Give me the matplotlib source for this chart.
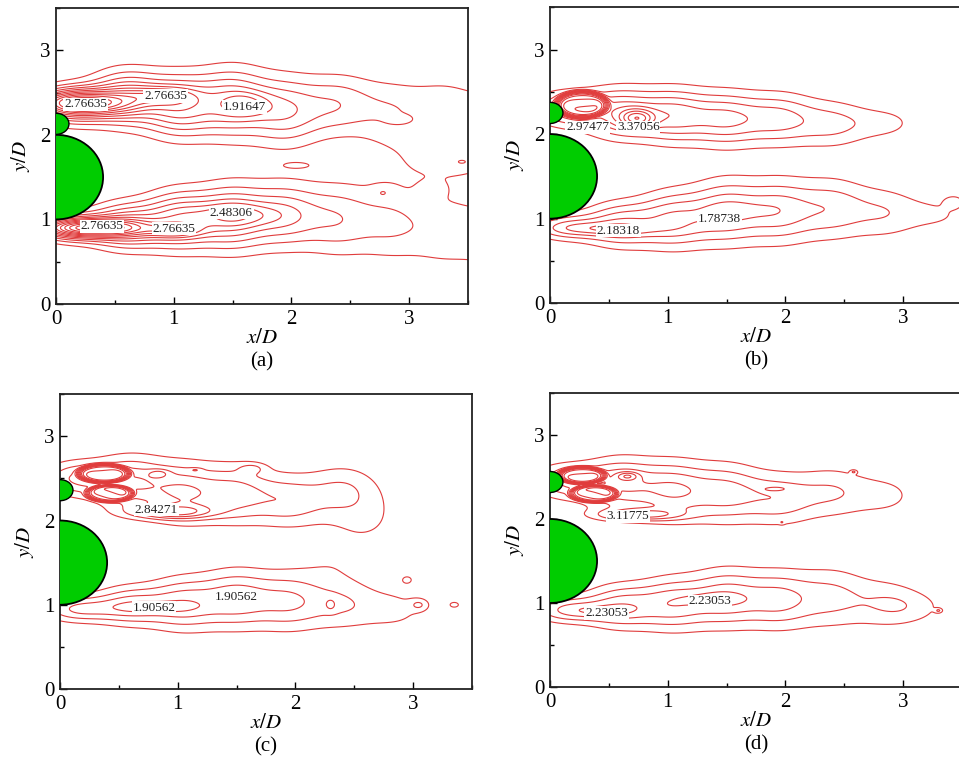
import numpy as np
import matplotlib
matplotlib.use("Agg")
from matplotlib import pyplot as plt
from matplotlib.patches import Ellipse
from matplotlib.ticker import MultipleLocator

# contour level steps
a_step = 0.28329
b_step = 0.39579
c_step = 0.31236
d_step = 0.29574
a_base = 0.78331
b_base = 0.60000
c_base = 0.96854
d_base = 1.34331

# x stations of the blobs that follow each shear layer
chain_x = [0.15, 0.60, 1.05, 1.50, 1.95, 2.40, 2.85, 3.30, 3.75]

# blobs of each field: centre x, centre y, width x, width y,
# peak (in contour steps), shape power
a_bx = chain_x + chain_x + [0.22, 0.90, 1.62, 0.30, 1.00, 1.55,
                            3.35, 2.05, 2.78, 3.20, 2.92, 3.45]
a_by = [2.35, 2.44, 2.34, 2.38, 2.28, 2.36, 2.26, 2.32, 2.20,
        0.90, 0.92, 0.99, 1.02, 1.05, 1.00, 0.96, 0.86, 0.80,
        2.38, 2.46, 2.36, 0.90, 0.87, 1.05,
        1.70, 1.64, 1.33, 1.35, 2.18, 1.68]
a_sx = [0.30] * 18 + [0.40, 0.25, 0.20, 0.40, 0.22, 0.35,
                      0.55, 0.15, 0.10, 0.12, 0.10, 0.07]
a_sy = [0.22, 0.30, 0.34, 0.38, 0.38, 0.34, 0.38, 0.38, 0.38,
        0.16, 0.25, 0.32, 0.36, 0.36, 0.40, 0.42, 0.42, 0.42,
        0.14, 0.10, 0.14, 0.10, 0.08, 0.13,
        0.30, 0.045, 0.08, 0.10, 0.05, 0.04]
a_amp = [4.2, 5.1, 5.1, 4.4, 3.6, 2.5, 1.7, 1.35, 1.35,
         4.2, 5.1, 5.1, 4.7, 3.5, 2.5, 1.9, 1.5, 1.5,
         8.0, 2.8, 2.1, 8.0, 2.8, 2.0,
         1.2, 0.9, 0.8, 0.8, 0.8, 0.8]
a_pw = [1] * 30

b_bx = chain_x[:7] + chain_x[:8] + [0.27, 0.74, 0.50, 1.60, 3.43]
b_by = [2.30, 2.25, 2.22, 2.18, 2.18, 2.12, 2.13,
        0.90, 0.93, 0.99, 1.08, 1.09, 1.12, 1.07, 1.05,
        2.35, 2.18, 0.88, 1.10, 1.20]
b_sx = [0.30] * 15 + [0.22, 0.14, 0.40, 0.32, 0.08]
b_sy = [0.20, 0.28, 0.30, 0.30, 0.29, 0.27, 0.20,
        0.15, 0.25, 0.32, 0.36, 0.36, 0.35, 0.30, 0.20,
        0.16, 0.11, 0.07, 0.10, 0.07]
b_amp = [3.4, 4.1, 4.1, 3.7, 3.05, 2.1, 1.2,
         3.0, 3.6, 3.6, 3.6, 3.2, 2.4, 1.7, 1.0,
         9.0, 4.5, 1.6, 0.6, 1.4]
b_pw = [1] * 15 + [4, 1, 1, 1, 1]

c_bx = chain_x[:6] + chain_x[:7] + [0.37, 0.42, 0.84, 1.15, 1.63, 0.95, 0.80, 1.50,
                                     2.60, 2.30, 2.30, 3.05, 3.35, 2.95]
c_by = [2.50, 2.45, 2.33, 2.32, 2.23, 2.36,
        0.95, 0.99, 1.01, 1.07, 1.04, 1.01, 0.94,
        2.56, 2.32, 2.56, 2.60, 2.62, 2.10, 0.97, 1.10,
        2.00, 1.50, 1.00, 1.00, 1.00, 1.30]
c_sx = [0.30] * 13 + [0.22, 0.20, 0.09, 0.05, 0.11, 0.35, 0.30, 0.12,
                      0.35, 0.30, 0.05, 0.08, 0.05, 0.08]
c_sy = [0.20, 0.30, 0.33, 0.33, 0.30, 0.30,
        0.15, 0.22, 0.30, 0.33, 0.33, 0.30, 0.25,
        0.11, 0.10, 0.05, 0.02, 0.06, 0.08, 0.06, 0.04,
        0.40, 0.25, 0.08, 0.07, 0.04, 0.08]
c_amp = [3.0, 3.6, 3.6, 3.05, 2.45, 1.8,
         3.0, 3.3, 3.3, 3.3, 2.8, 1.8, 1.2,
         9.0, 8.0, 1.5, 1.0, 1.3, 3.5, 1.2, 0.8,
         1.0, 0.6, 1.0, 1.5, 1.5, 1.0]
c_pw = [1] * 13 + [4, 4] + [1] * 12

d_bx = chain_x[:7] + chain_x[:7] + [3.10] + [
    0.27, 0.37, 0.66, 0.75, 0.45, 1.40, 1.92, 2.58, 1.97, 3.30]
d_by = [2.45, 2.41, 2.34, 2.31, 2.24, 2.32, 2.28,
        0.92, 0.96, 0.99, 1.06, 1.04, 1.07, 1.00, 0.95,
        2.52, 2.30, 2.51, 2.05, 0.90, 1.05,
        2.36, 2.56, 1.96, 0.91]
d_sx = [0.30] * 15 + [0.20, 0.20, 0.09, 0.35, 0.25, 0.25,
                      0.08, 0.025, 0.02, 0.03]
d_sy = [0.20, 0.30, 0.33, 0.33, 0.30, 0.30, 0.25,
        0.15, 0.25, 0.30, 0.33, 0.33, 0.35, 0.30, 0.20,
        0.10, 0.10, 0.05, 0.07, 0.07, 0.08,
        0.02, 0.02, 0.02, 0.025]
d_amp = [3.0, 3.6, 3.6, 3.05, 2.45, 1.8, 1.2,
         3.0, 3.3, 3.3, 3.3, 3.0, 2.0, 1.5, 1.0,
         9.0, 8.0, 2.5, 3.5, 1.0, 1.0,
         1.0, 1.5, 1.0, 1.5]
d_pw = [1] * 15 + [4, 4] + [1] * 8

# labels on the contours
a_lab = ["2.76635", "2.76635", "1.91647", "2.76635", "2.76635", "2.48306"]
a_lx = [0.25, 0.93, 1.60, 0.39, 1.00, 1.49]
a_ly = [2.36, 2.46, 2.33, 0.92, 0.89, 1.08]
b_lab = ["2.97477", "3.37056", "2.18318", "1.78738"]
b_lx = [0.32, 0.75, 0.58, 1.44]
b_ly = [2.08, 2.08, 0.86, 1.00]
c_lab = ["2.84271", "1.90562", "1.90562"]
c_lx = [0.82, 0.80, 1.50]
c_ly = [2.13, 0.96, 1.09]
d_lab = ["3.11775", "2.23053", "2.23053"]
d_lx = [0.66, 0.48, 1.36]
d_ly = [2.03, 0.88, 1.02]

# small cylinder centre y for each case
small_cy = [2.13, 2.25, 2.36, 2.44]
captions = ["(a)", "(b)", "(c)", "(d)"]

plt.rcParams["font.family"] = ["Liberation Serif", "DejaVu Serif"]
plt.rcParams["mathtext.fontset"] = "stix"

xg = np.linspace(0, 3.5, 500)
yg = np.linspace(0, 3.5, 500)
X, Y = np.meshgrid(xg, yg)


def make_field(bx, by, sx, sy, amp, pw, base, step):
    F = np.zeros_like(X)
    for i in range(len(bx)):
        r2 = ((X - bx[i]) / sx[i]) ** 2 + ((Y - by[i]) / sy[i]) ** 2
        F += amp[i] * np.exp(-r2 ** pw[i])
    # F = 1 is the lowest drawn level
    return base + step * (F - 1)


panels = [
    (a_bx, a_by, a_sx, a_sy, a_amp, a_pw, a_base, a_step, a_lab, a_lx, a_ly),
    (b_bx, b_by, b_sx, b_sy, b_amp, b_pw, b_base, b_step, b_lab, b_lx, b_ly),
    (c_bx, c_by, c_sx, c_sy, c_amp, c_pw, c_base, c_step, c_lab, c_lx, c_ly),
    (d_bx, d_by, d_sx, d_sy, d_amp, d_pw, d_base, d_step, d_lab, d_lx, d_ly),
]

# axes boxes in figure fractions
boxes = [
    [0.0584, 0.600, 0.4296, 0.3895],
    [0.5735, 0.601, 0.4296, 0.3895],
    [0.0626, 0.0934, 0.4296, 0.388],
    [0.5735, 0.096, 0.4296, 0.387],
]

fig = plt.figure(figsize=(9.59, 7.60), dpi=100)

for k in range(4):
    bx, by, sx, sy, amp, pw, base, step, lab, lx, ly = panels[k]
    ax = fig.add_axes(boxes[k])
    Z = make_field(bx, by, sx, sy, amp, pw, base, step)
    levels = base + step * np.arange(0, 30)
    ax.contour(X, Y, Z, levels=levels, colors="#e03c3c", linewidths=0.8)

    # cylinders
    ax.add_patch(Ellipse((0, 1.5), 0.80, 1.0, facecolor="#00cc00",
                         edgecolor="black", linewidth=1.3, zorder=5))
    ax.add_patch(Ellipse((0, small_cy[k]), 0.22, 0.25, facecolor="#00cc00",
                         edgecolor="black", linewidth=1.0, zorder=5))

    for t in range(len(lab)):
        ax.text(lx[t], ly[t], lab[t], fontsize=9.5, ha="center", va="center",
                color="#222222", zorder=6,
                bbox=dict(boxstyle="square,pad=0.05", facecolor="white", edgecolor="none"))

    ax.set_xlim(0, 3.5)
    ax.set_ylim(0, 3.5)
    ax.xaxis.set_major_locator(MultipleLocator(1))
    ax.yaxis.set_major_locator(MultipleLocator(1))
    ax.xaxis.set_minor_locator(MultipleLocator(0.5))
    ax.yaxis.set_minor_locator(MultipleLocator(0.5))
    ax.tick_params(which="major", direction="in", length=5, width=1.0, labelsize=15, pad=4)
    ax.tick_params(which="minor", direction="in", length=3, width=1.0)
    for sp in ax.spines.values():
        sp.set_linewidth(1.3)
        sp.set_color("#222222")
    ax.set_xlabel("$x/D$", fontsize=15, labelpad=0)
    ax.set_ylabel("$y/D$", fontsize=15, labelpad=6)
    ax.text(0.5, -0.196, captions[k], transform=ax.transAxes, ha="center",
            va="center", fontsize=15)

plt.savefig("out.png", dpi=100)
